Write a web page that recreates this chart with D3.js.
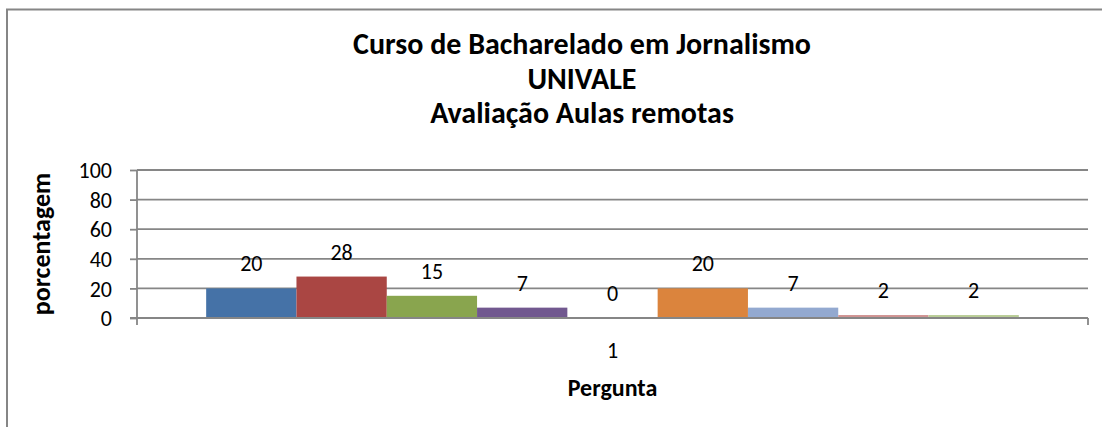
<!DOCTYPE html>
<html>
<head>
<meta charset="utf-8">
<script src="https://cdn.jsdelivr.net/npm/d3@7"></script>
<style>
  html, body { margin: 0; padding: 0; background: #fff; }
  svg { display: block; }
  text { font-family: Carlito, Calibri, Lato, "Liberation Sans", sans-serif; fill: #000; }
</style>
</head>
<body>
<svg id="chart" width="1102" height="427"></svg>
<script>
const titleLines = ["Curso de Bacharelado em Jornalismo", "UNIVALE", "Avaliação Aulas remotas"];
const categories = ["1"];
const seriesNames = ["S1", "S2", "S3", "S4", "S5", "S6", "S7", "S8", "S9"];
const seriesValues = [20, 28, 15, 7, 0, 20, 7, 2, 2];
const seriesColors = ["#4572A7", "#AA4643", "#89A54E", "#71588F", "#4198AF", "#DB843D", "#93A9D0", "#D09392", "#B9CD96"];
const yTicks = [0, 20, 40, 60, 80, 100];
const yAxisTitle = "porcentagem";
const xAxisTitle = "Pergunta";

const svg = d3.select("#chart");
const W = 1102, H = 427;
const plot = { left: 137, right: 1088, top: 170, bottom: 318 };
const gridColor = "#868686";

// chart border (top and left visible)
svg.append("line").attr("x1", 6).attr("x2", W).attr("y1", 9.5).attr("y2", 9.5)
  .attr("stroke", gridColor).attr("stroke-width", 2);
svg.append("line").attr("x1", 7).attr("x2", 7).attr("y1", 9).attr("y2", H)
  .attr("stroke", gridColor).attr("stroke-width", 2);

// title
const title = svg.append("text").attr("text-anchor", "middle")
  .attr("font-weight", "bold").attr("font-size", 30);
titleLines.forEach((t, i) => {
  title.append("tspan").attr("x", 582).attr("y", 54 + i * 34.5).text(t);
});

const y = d3.scaleLinear().domain([0, 100]).range([plot.bottom, plot.top]);
const x0 = d3.scaleBand().domain(categories).range([plot.left, plot.right]).padding(0);
const x1 = d3.scaleBand().domain(seriesNames).range([0, x0.bandwidth()])
  .paddingInner(0).paddingOuter(0.766);

// gridlines
svg.append("g").selectAll("line").data(yTicks.filter(d => d > 0)).join("line")
  .attr("x1", plot.left).attr("x2", plot.right)
  .attr("y1", d => y(d)).attr("y2", d => y(d))
  .attr("stroke", gridColor).attr("stroke-width", 1.8);

// bars
const g = svg.append("g");
categories.forEach(c => {
  g.selectAll("rect.s").data(seriesValues.map((v, i) => ({ v, i }))).join("rect")
    .attr("x", d => x0(c) + x1(seriesNames[d.i]))
    .attr("width", x1.bandwidth())
    .attr("y", d => y(d.v))
    .attr("height", d => y(0) - y(d.v))
    .attr("fill", d => seriesColors[d.i]);
  g.selectAll("text.lbl").data(seriesValues.map((v, i) => ({ v, i }))).join("text")
    .attr("class", "lbl")
    .attr("x", d => x0(c) + x1(seriesNames[d.i]) + x1.bandwidth() / 2)
    .attr("y", d => y(d.v) - 17)
    .attr("text-anchor", "middle").attr("font-size", 22)
    .text(d => d.v);
});

// y axis
const yAxis = d3.axisLeft(y).tickValues(yTicks).tickSize(7).tickPadding(18);
const ya = svg.append("g").attr("transform", `translate(${plot.left},0)`).call(yAxis);
ya.select(".domain").attr("stroke", gridColor).attr("stroke-width", 1.8).attr("d", `M0,${plot.top}V${plot.bottom}`);
ya.selectAll(".tick line").attr("stroke", gridColor).attr("stroke-width", 1.8);
ya.selectAll(".tick text").attr("font-size", 22).attr("font-family", null).attr("fill", "#000").attr("dy", "0.35em");

// x axis
const xAxis = d3.axisBottom(x0).tickSize(0).tickPadding(24);
const xa = svg.append("g").attr("transform", `translate(0,${plot.bottom})`).call(xAxis);
xa.select(".domain").remove();
xa.selectAll(".tick text").attr("font-size", 22).attr("font-family", null).attr("fill", "#000");
svg.append("line").attr("x1", plot.left - 7).attr("x2", plot.right).attr("y1", plot.bottom).attr("y2", plot.bottom)
  .attr("stroke", gridColor).attr("stroke-width", 1.8);
[plot.left, plot.right].forEach(px => {
  svg.append("line").attr("x1", px).attr("x2", px).attr("y1", plot.bottom).attr("y2", plot.bottom + 7)
    .attr("stroke", gridColor).attr("stroke-width", 1.8);
});

// axis titles
svg.append("text").attr("transform", `translate(50,${(plot.top + plot.bottom) / 2}) rotate(-90)`)
  .attr("text-anchor", "middle").attr("font-weight", "bold").attr("font-size", 26)
  .text(yAxisTitle);
svg.append("text").attr("x", (plot.left + plot.right) / 2).attr("y", 396)
  .attr("text-anchor", "middle").attr("font-weight", "bold").attr("font-size", 24)
  .text(xAxisTitle);
</script>
</body>
</html>
